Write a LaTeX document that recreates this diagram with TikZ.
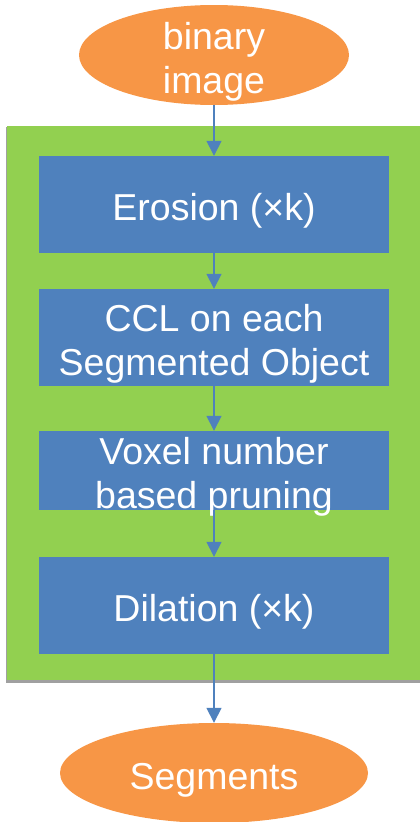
\documentclass[tikz,border=0pt]{standalone}
\usepackage{fontspec}
\setmainfont{Liberation Sans}
\usetikzlibrary{shapes.geometric,arrows.meta}
\definecolor{ovalorange}{HTML}{F79646}
\definecolor{panelgreen}{HTML}{92D050}
\definecolor{stepblue}{HTML}{4F81BD}
\definecolor{panelshadow}{HTML}{A0A0A0}
\tikzset{
  lowtext/.style={execute at begin node={\rule{0pt}{#1}}},
  lowtext/.default=40pt,
  oval/.style={ellipse,fill=ovalorange,text=white,inner xsep=0pt,inner ysep=-15pt,
    align=center,lowtext,font=\fontsize{37.5}{44}\selectfont},
  stepbox/.style={rectangle,fill=stepblue,text=white,inner xsep=0pt,inner ysep=-10pt,
    align=center,lowtext,minimum width=350pt,font=\fontsize{37.5}{44}\selectfont},
  flow/.style={draw=stepblue,line width=1.5pt,-{Triangle[width=15pt,length=15pt]}}
}
\begin{document}
\begin{tikzpicture}[x=1pt,y=-1pt]
   \useasboundingbox (0,0) rectangle (420,822);
   % green panel with its shadow
   \path[fill=panelshadow] (6,127) rectangle (420,683);
   \path[fill=panelgreen] (7,126) rectangle (420,680);
   % ovals and steps
   \node[oval,lowtext=84pt,minimum width=270pt,minimum height=100pt] (input) at (214,55) {binary\\image};
   \node[stepbox,minimum height=97pt] (erosion) at (214,204.5) {Erosion (×k)};
   \node[stepbox,lowtext=84pt,minimum height=97pt] (ccl) at (214,337.5) {CCL on each\\Segmented Object};
   \node[stepbox,lowtext=84pt,minimum height=79pt] (prune) at (214,470.5) {Voxel number\\based pruning};
   \node[stepbox,minimum height=97pt] (dilation) at (214,605.5) {Dilation (×k)};
   \node[oval,minimum width=308pt,minimum height=100pt] (output) at (214,773) {Segments};
   % connectors
   \draw[flow] (input) -- (erosion);
   \draw[flow] (erosion) -- (ccl);
   \draw[flow] (ccl) -- (prune);
   \draw[flow] (prune) -- (dilation);
   \draw[flow] (dilation) -- (output);
\end{tikzpicture}
\end{document}
